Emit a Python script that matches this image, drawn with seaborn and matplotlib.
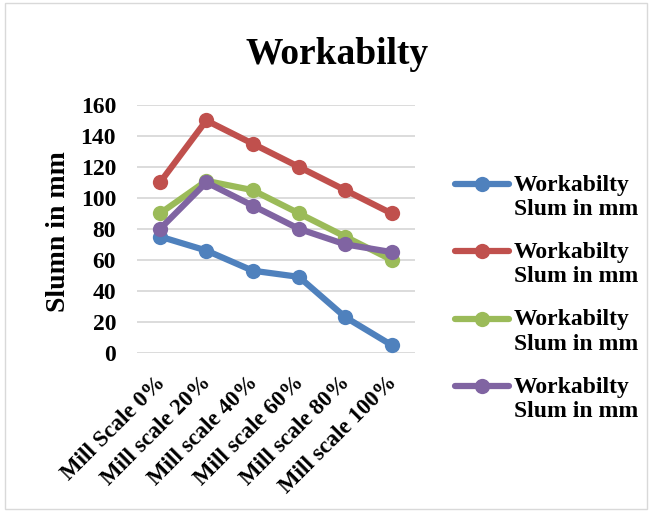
import pandas as pd
import numpy as np
import seaborn as sns
import matplotlib.pyplot as plt
from matplotlib.legend_handler import HandlerLine2D
from matplotlib.transforms import Affine2D, ScaledTranslation

categories = ["Mill Scale 0%", "Mill scale 20%", "Mill scale 40%",
              "Mill scale 60%", "Mill scale 80%", "Mill scale 100%"]
series_1 = [75, 66, 53, 49, 23, 5]
series_2 = [110, 150, 135, 120, 105, 90]
series_3 = [90, 111, 105, 90, 75, 60]
series_4 = [80, 110, 95, 80, 70, 65]
series_label = "Workabilty\nSlum in mm"

colrs = ['#4F81BD', '#C0504D', '#9BBB59', '#8064A2']


# legend handle sits on the first line of the two-line label
class TopLineHandler(HandlerLine2D):
    def create_artists(self, legend, orig_handle, xdescent, ydescent,
                       width, height, fontsize, trans):
        trans = Affine2D().translate(0, 9.5) + trans
        return super().create_artists(legend, orig_handle, xdescent, ydescent,
                                      width, height, fontsize, trans)


sns.set_style("white")
plt.rcParams['font.family'] = ['Liberation Serif', 'DejaVu Serif']
plt.rcParams['font.weight'] = 'bold'
plt.rcParams['text.color'] = 'black'
plt.rcParams['axes.labelcolor'] = 'black'
plt.rcParams['xtick.color'] = 'black'
plt.rcParams['ytick.color'] = 'black'

fig = plt.figure(figsize=(6.52, 5.12), dpi=100)
ax = fig.add_axes([0.21, 0.311, 0.426, 0.484])

x = np.arange(len(categories))
for vals, c in zip([series_1, series_2, series_3, series_4], colrs):
    df = pd.DataFrame({'x': x, 'y': vals})
    sns.lineplot(data=df, x='x', y='y', ax=ax, color=c, linewidth=4.5,
                 marker='o', markersize=11, markeredgewidth=0,
                 label=series_label)

ax.set_xlim(-0.5, 5.5)
ax.set_ylim(0, 160)
ax.set_yticks(range(0, 161, 20))
ax.set_xticks(x)
ax.set_xticklabels(categories, rotation=45, ha='right', rotation_mode='anchor',
                   fontsize=16.5, fontweight='bold')
ax.tick_params(axis='y', labelsize=17, length=0, pad=15)
ax.tick_params(axis='x', length=0, pad=14)
for t in ax.get_yticklabels():
    t.set_fontweight('bold')
for t in ax.get_xticklabels():
    t.set_transform(t.get_transform() + ScaledTranslation(-4 / 72, 0, fig.dpi_scale_trans))
ax.grid(axis='y', color='#D9D9D9', linewidth=1.3)
for s in ax.spines.values():
    s.set_visible(False)
ax.set_xlabel('')
ax.set_ylabel('Slumn in mm', fontsize=20, fontweight='bold')
ax.yaxis.set_label_coords(-0.238, 0.49)

fig.text(0.517, 0.893, 'Workabilty', ha='center', va='center',
         fontsize=27, fontweight='bold')

handles, labels = ax.get_legend_handles_labels()
leg = fig.legend(handles, labels, loc='upper left', bbox_to_anchor=(0.698, 0.659),
                 frameon=False, prop={'size': 17, 'weight': 'bold'},
                 handlelength=2.3, labelspacing=0.94, handletextpad=0.2,
                 borderpad=0, borderaxespad=0,
                 handler_map={h: TopLineHandler() for h in handles})
ax.get_legend().remove()

fig.patches.append(plt.Rectangle((0.008, 0.006), 0.984, 0.988,
                                 transform=fig.transFigure, fill=False,
                                 edgecolor='#D9D9D9', linewidth=1))

fig.savefig('out.png', dpi=100)
